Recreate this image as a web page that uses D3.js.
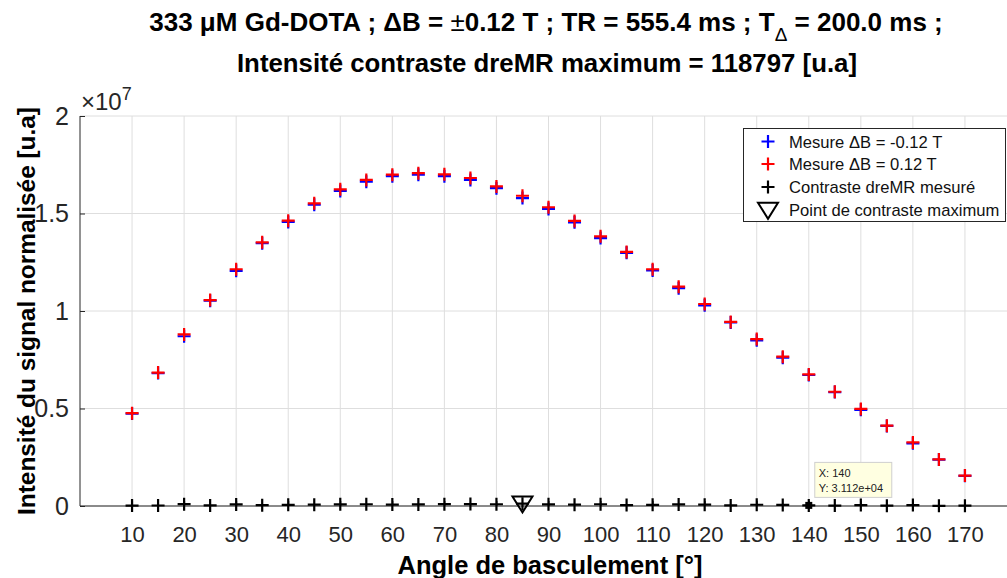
<!DOCTYPE html>
<html>
<head>
<meta charset="utf-8">
<script src="https://cdn.jsdelivr.net/npm/d3@7"></script>
<style>
html,body{margin:0;padding:0;background:#fff;}
svg{display:block;font-family:"Liberation Sans",Arial,sans-serif;}
</style>
</head>
<body>
<svg id="chart" width="1007" height="578"></svg>
<script>
// ---- data ----
const angles = [10,15,20,25,30,35,40,45,50,55,60,65,70,75,80,85,90,95,100,105,110,115,120,125,130,135,140,145,150,155,160,165,170];
const mesureMoins = [4.74e6,6.815e6,8.705e6,10.53e6,12.06e6,13.48e6,14.57e6,15.45e6,16.155e6,16.63e6,16.915e6,16.99e6,16.915e6,16.72e6,16.30e6,15.791e6,15.235e6,14.55e6,13.74e6,12.985e6,12.08e6,11.17e6,10.29e6,9.41e6,8.495e6,7.605e6,6.719e6,5.84e6,4.93e6,4.105e6,3.215e6,2.38e6,1.545e6];
const mesurePlus  = [4.76e6,6.84e6,8.80e6,10.56e6,12.14e6,13.52e6,14.63e6,15.52e6,16.24e6,16.72e6,16.99e6,17.07e6,17.01e6,16.82e6,16.39e6,15.91e6,15.32e6,14.62e6,13.83e6,13.03e6,12.14e6,11.25e6,10.36e6,9.44e6,8.56e6,7.66e6,6.75e6,5.86e6,4.98e6,4.12e6,3.26e6,2.39e6,1.56e6];
const contraste   = [20000,25000,95000,30000,80000,40000,60000,70000,85000,90000,75000,80000,95000,100000,90000,118797,85000,70000,90000,45000,60000,80000,70000,30000,65000,55000,31120,20000,50000,15000,45000,10000,15000];
const maxPoint = {angle: 85, value: 118797};
const tipPoint = {angle: 140, value: 31120};
const xTicks = [10,20,30,40,50,60,70,80,90,100,110,120,130,140,150,160,170];
const yTicks = [0,0.5e7,1e7,1.5e7,2e7];
const yTickLabels = ["0","0.5","1","1.5","2"];
const legendLabels = ["Mesure \u0394B = -0.12 T","Mesure \u0394B = 0.12 T","Contraste dreMR mesur\u00e9","Point de contraste maximum"];

// ---- layout ----
const svg = d3.select("#chart");
const x = d3.scaleLinear().domain([0,180]).range([80,1017]);
const y = d3.scaleLinear().domain([0,2e7]).range([506,116]);
const axisColor = "#262626";
const gridColor = "#dedede";

// grid
const g = svg.append("g");
g.selectAll("line.vg").data(xTicks).join("line")
  .attr("x1",d=>x(d)).attr("x2",d=>x(d)).attr("y1",y(0)).attr("y2",y(2e7))
  .attr("stroke",gridColor).attr("stroke-width",1);
g.selectAll("line.hg").data(yTicks).join("line")
  .attr("x1",x(0)).attr("x2",1007).attr("y1",d=>y(d)).attr("y2",d=>y(d))
  .attr("stroke",gridColor).attr("stroke-width",1);

// axes
const xAxis = d3.axisBottom(x).tickValues(xTicks).tickSize(-5).tickPadding(20).tickFormat(d3.format("d"));
const gx = svg.append("g").attr("transform",`translate(0,${y(0)})`).call(xAxis);
gx.select(".domain").attr("stroke",axisColor).attr("d",`M${x(0)},0H1007`);
gx.selectAll(".tick line").attr("stroke",axisColor);
gx.selectAll(".tick text").attr("fill",axisColor).attr("font-size",22).attr("font-family","Liberation Sans, Arial, sans-serif");

const yAxis = d3.axisLeft(y).tickValues(yTicks).tickSize(-5).tickPadding(11).tickFormat((d,i)=>yTickLabels[i]);
const gy = svg.append("g").attr("transform",`translate(${x(0)},0)`).call(yAxis);
gy.select(".domain").attr("stroke",axisColor).attr("d",`M0,${y(0)}V${y(2e7)}`);
gy.selectAll(".tick line").attr("stroke",axisColor);
gy.selectAll(".tick text").attr("fill",axisColor).attr("font-size",25).attr("font-family","Liberation Sans, Arial, sans-serif");

// exponent label
const ex = svg.append("text").attr("x",81).attr("y",110).attr("font-size",24).attr("fill",axisColor);
ex.append("tspan").text("\u00d710");
ex.append("tspan").attr("dy",-10).attr("font-size",18).text("7");

// markers
function plus(sel, color, size, sw){
  sel.attr("stroke",color).attr("stroke-width",sw).attr("fill","none")
    .attr("d",`M${-size/2},0H${size/2}M0,${-size/2}V${size/2}`);
}
const pts = angles.map((a,i)=>({a, m:mesureMoins[i], p:mesurePlus[i], c:contraste[i]}));
svg.append("g").selectAll("path").data(pts).join("path")
  .attr("transform",d=>`translate(${x(d.a)},${y(d.m)})`).call(plus,"#0000ff",13,2.2);
svg.append("g").selectAll("path").data(pts).join("path")
  .attr("transform",d=>`translate(${x(d.a)},${y(d.p)})`).call(plus,"#ff0000",13,2.2);
svg.append("g").selectAll("path").data(pts).join("path")
  .attr("transform",d=>`translate(${x(d.a)},${y(d.c)})`).call(plus,"#000000",13,2.2);

// triangle at max contrast
function tri(sel, w, h){
  sel.attr("d",`M${-w/2},${-h*0.45}L${w/2},${-h*0.45}L0,${h*0.55}Z`)
    .attr("fill","none").attr("stroke","#000").attr("stroke-width",2);
}
svg.append("path").attr("transform",`translate(${x(maxPoint.angle)},${y(maxPoint.value)})`).call(tri,20,16);

// datatip
svg.append("rect").attr("x",x(tipPoint.angle)-3.5).attr("y",y(tipPoint.value)-3.5).attr("width",7).attr("height",7).attr("fill","#000");
const tip = svg.append("g").attr("transform",`translate(${x(tipPoint.angle)+6},${y(tipPoint.value)-43})`);
tip.append("rect").attr("x",0).attr("y",0).attr("width",77).attr("height",35).attr("fill","#ffffe1").attr("stroke","#cfcfcf");
tip.append("text").attr("x",4).attr("y",15).attr("font-size",11).attr("fill","#222").text("X: " + tipPoint.angle);
tip.append("text").attr("x",4).attr("y",30).attr("font-size",11).attr("fill","#222").text("Y: " + d3.format(".3e")(tipPoint.value).replace("e+4","e+04"));

// legend
const lg = svg.append("g");
lg.append("rect").attr("x",743.5).attr("y",128.5).attr("width",262).attr("height",93).attr("fill","#fff").attr("stroke",axisColor);
const ly = [141.5,164,187,210];
const lcolors = ["#0000ff","#ff0000","#000000"];
lcolors.forEach((c,i)=>{
  lg.append("path").attr("transform",`translate(768,${ly[i]})`).call(plus,c,13,2.2);
});
lg.append("path").attr("transform",`translate(768,${ly[3]})`).call(tri,20,16);
legendLabels.forEach((t,i)=>{
  lg.append("text").attr("x",789).attr("y",ly[i]+6).attr("font-size",16.6).attr("fill","#111").text(t);
});

// titles
const t1 = svg.append("text").attr("x",546).attr("y",31).attr("text-anchor","middle").attr("font-size",26).attr("font-weight","bold").attr("fill","#000");
t1.append("tspan").text("333 \u03bcM Gd-DOTA ; \u0394B = ");
t1.append("tspan").attr("font-weight","normal").text("\u00b1");
t1.append("tspan").text("0.12 T ; TR = 555.4 ms ; T");
t1.append("tspan").attr("dy",10).attr("font-size",19).attr("font-weight","normal").text("\u0394");
t1.append("tspan").attr("dy",-10).text(" = 200.0 ms ;");
svg.append("text").attr("x",547).attr("y",72).attr("text-anchor","middle").attr("font-size",25.8).attr("font-weight","bold").attr("fill","#000")
  .text("Intensit\u00e9 contraste dreMR maximum = 118797 [u.a]");

svg.append("text").attr("x",550).attr("y",574).attr("text-anchor","middle").attr("font-size",25.5).attr("font-weight","bold").attr("fill","#000")
  .text("Angle de basculement [\u00b0]");
svg.append("text").attr("transform","translate(35,311) rotate(-90)").attr("text-anchor","middle").attr("font-size",24.4).attr("font-weight","bold").attr("fill","#000")
  .text("Intensit\u00e9 du signal normalis\u00e9e [u.a]");
</script>
</body>
</html>
